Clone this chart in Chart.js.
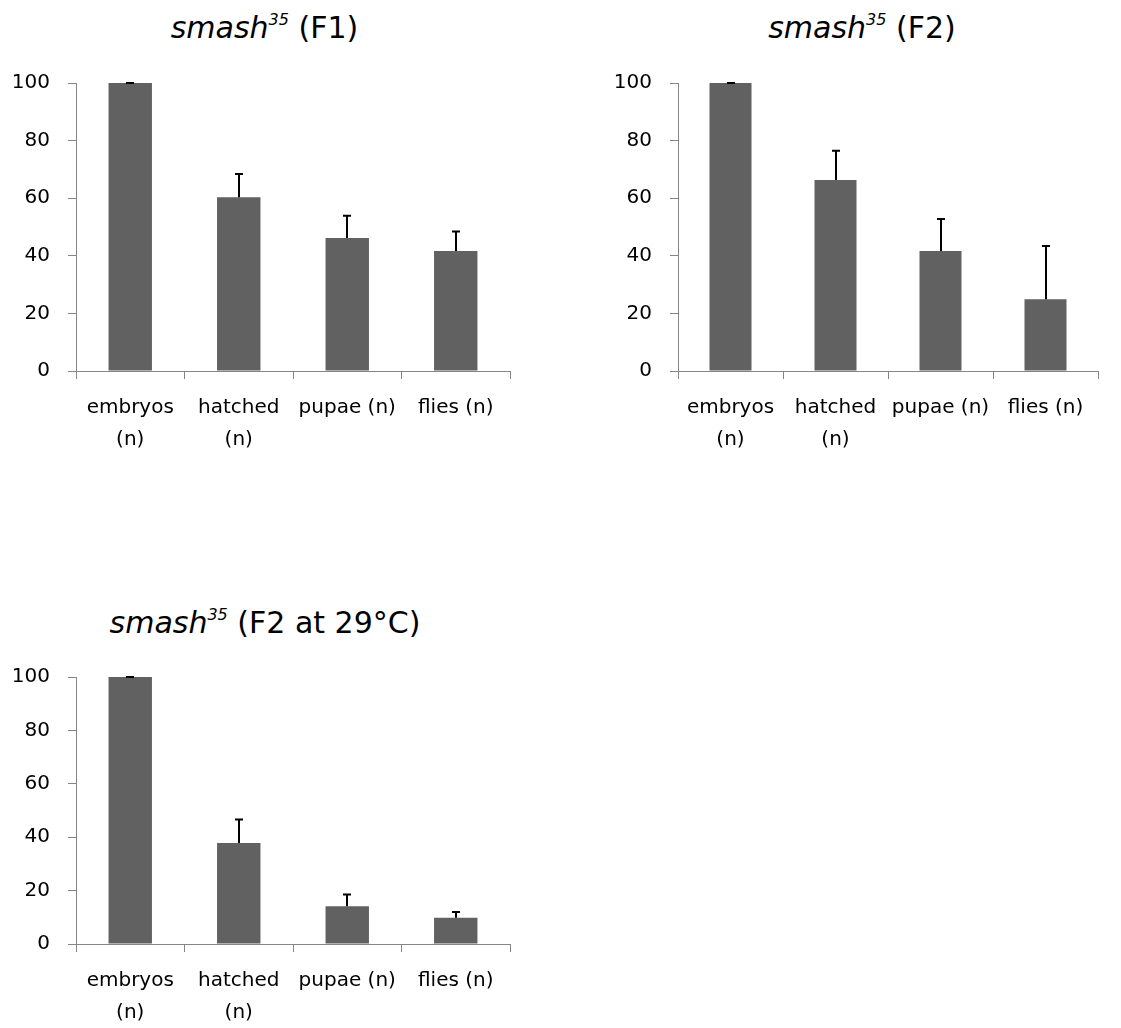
<!DOCTYPE html>
<html>
<head>
<meta charset="utf-8">
<script src="https://cdn.jsdelivr.net/npm/chart.js@4.4.1/dist/chart.umd.min.js"></script>
<style>
  body { margin: 0; background: #fff; width: 1121px; height: 1028px; overflow: hidden; position: relative; font-family: "DejaVu Sans", sans-serif; }
  canvas { position: absolute; }
  .title { position: absolute; text-align: center; font-size: 30px; line-height: 30px; color: #000; white-space: nowrap; }
  .title sup { font-size: 16px; font-style: italic; position: relative; top: -13px; vertical-align: baseline; }
</style>
</head>
<body>
<div class="title" style="left:0; top:13px; width:529px;"><i>smash</i><sup>35</sup> (F1)</div>
<div class="title" style="left:602px; top:13px; width:520px;"><i>smash</i><sup>35</sup> (F2)</div>
<div class="title" style="left:0; top:608px; width:530px;"><i>smash</i><sup>35</sup> (F2 at 29°C)</div>

<canvas id="chartF1" width="532" height="470" style="left:0; top:0;"></canvas>
<canvas id="chartF2" width="519" height="470" style="left:602px; top:0;"></canvas>
<canvas id="chartF2hot" width="532" height="438" style="left:0; top:590px;"></canvas>

<script>
// categories and ticks
const categories = [['embryos', '(n)'], ['hatched', '(n)'], 'pupae (n)', 'flies (n)'];
const yTicks = [0, 20, 40, 60, 80, 100];

// smash35 (F1)
const f1Values = [100, 60.3, 46.2, 41.7];
const f1Errors = [0, 8.1, 7.7, 6.7];

// smash35 (F2)
const f2Values = [100, 66.3, 41.7, 24.9];
const f2Errors = [0, 10.2, 11.1, 18.5];

// smash35 (F2 at 29°C)
const f2hotValues = [100, 37.8, 14.1, 9.8];
const f2hotErrors = [0, 8.8, 4.4, 2.2];

Chart.defaults.font.family = '"DejaVu Sans", sans-serif';
Chart.defaults.color = '#000';

// draws the upper error bar (stem + cap) on each bar
const errorBars = {
    id: 'errorBars',
    afterDatasetsDraw(chart) {
        let ctx = chart.ctx;
        let yScale = chart.scales.y;
        let ds = chart.data.datasets[0];
        ctx.save();
        ctx.strokeStyle = '#000';
        ctx.lineWidth = 2;
        chart.getDatasetMeta(0).data.forEach(function(bar, i) {
            let base = yScale.getPixelForValue(ds.data[i]);
            let top = yScale.getPixelForValue(ds.data[i] + ds.errors[i]);
            let x = Math.round(bar.x);
            ctx.beginPath();
            ctx.moveTo(x, base);
            ctx.lineTo(x, top);
            ctx.moveTo(x - 4, top);
            ctx.lineTo(x + 4, top);
            ctx.stroke();
        });
        ctx.restore();
    }
};

function makeChart(id, values, errors, pad, xHeight) {
    let ctx = document.getElementById(id).getContext('2d');
    return new Chart(ctx, {
        type: 'bar',
        data: {
            labels: categories,
            datasets: [{
                data: values,
                errors: errors,
                backgroundColor: '#616161',
                borderWidth: 0,
                categoryPercentage: 1.0,
                barPercentage: 0.4
            }]
        },
        options: {
            responsive: false,
            animation: false,
            devicePixelRatio: 1,
            layout: { padding: pad },
            plugins: {
                legend: { display: false },
                tooltip: { enabled: false },
                title: { display: false }
            },
            scales: {
                x: {
                    afterFit: function(scale) { scale.height = xHeight; },
                    grid: {
                        drawOnChartArea: false,
                        drawTicks: true,
                        tickLength: 8,
                        color: '#868686',
                        offset: true
                    },
                    border: { color: '#868686', width: 1 },
                    ticks: {
                        font: { size: 20, lineHeight: 1.6 },
                        padding: 13,
                        maxRotation: 0,
                        autoSkip: false
                    }
                },
                y: {
                    min: 0,
                    max: 100,
                    afterFit: function(scale) { scale.width = 76; },
                    afterBuildTicks: function(scale) {
                        scale.ticks = yTicks.map(v => ({ value: v }));
                    },
                    grid: {
                        drawOnChartArea: false,
                        drawTicks: true,
                        tickLength: 8,
                        color: '#868686'
                    },
                    border: { color: '#868686', width: 1 },
                    ticks: {
                        font: { size: 20 },
                        padding: 18
                    }
                }
            }
        },
        plugins: [errorBars]
    });
}

makeChart('chartF1', f1Values, f1Errors, { top: 83, left: 0, right: 22, bottom: 0 }, 99);
makeChart('chartF2', f2Values, f2Errors, { top: 83, left: 0, right: 23, bottom: 0 }, 99);
makeChart('chartF2hot', f2hotValues, f2hotErrors, { top: 87, left: 0, right: 22, bottom: 0 }, 84);
</script>
</body>
</html>
